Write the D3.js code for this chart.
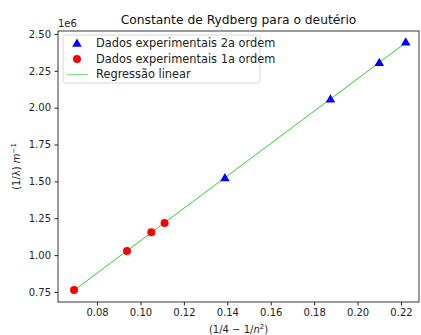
<!DOCTYPE html>
<html>
<head>
<meta charset="utf-8">
<script src="https://cdn.jsdelivr.net/npm/d3@7"></script>
<style>
  body { margin: 0; background: #fff; }
  svg { display: block; font-family: "DejaVu Sans", sans-serif; }
</style>
</head>
<body>
<div id="chart"></div>
<script>
// dados
const x2aOrdem = [0.1389, 0.1875, 0.2100, 0.2222];
const y2aOrdem = [1.523e6, 2.057e6, 2.305e6, 2.444e6];
const x1aOrdem = [0.0694, 0.0938, 0.1050, 0.1111];
const y1aOrdem = [0.764e6, 1.028e6, 1.155e6, 1.218e6];
const xTicks = [0.08, 0.10, 0.12, 0.14, 0.16, 0.18, 0.20, 0.22];
const yTicks = [0.75e6, 1.0e6, 1.25e6, 1.5e6, 1.75e6, 2.0e6, 2.25e6, 2.5e6];

const width = 421, height = 335;
const m = { left: 58, right: 2, top: 31, bottom: 33 };
const fs = 10;

const svg = d3.select("#chart").append("svg")
  .attr("width", width).attr("height", height);

const x = d3.scaleLinear().domain([0.0620, 0.2283]).range([m.left, width - m.right]);
const y = d3.scaleLinear().domain([0.682e6, 2.520e6]).range([height - m.bottom, m.top]);

// regressão linear (mínimos quadrados) sobre todos os pontos
const xs = x1aOrdem.concat(x2aOrdem), ys = y1aOrdem.concat(y2aOrdem);
const mx = d3.mean(xs), my = d3.mean(ys);
const slope = d3.sum(xs, (v, i) => (v - mx) * (ys[i] - my)) / d3.sum(xs, v => (v - mx) ** 2);
const icpt = my - slope * mx;
const xr = d3.extent(xs);

svg.append("line")
  .attr("x1", x(xr[0])).attr("y1", y(icpt + slope * xr[0]))
  .attr("x2", x(xr[1])).attr("y2", y(icpt + slope * xr[1]))
  .attr("stroke", "#32cd32").attr("stroke-width", 1);

svg.append("g").selectAll("circle")
  .data(x1aOrdem)
  .join("circle")
  .attr("cx", d => x(d))
  .attr("cy", (d, i) => y(y1aOrdem[i]))
  .attr("r", 4)
  .attr("fill", "red");

const tri = d3.symbol().type(d3.symbolTriangle).size(40);
svg.append("g").selectAll("path")
  .data(x2aOrdem)
  .join("path")
  .attr("d", tri)
  .attr("transform", (d, i) => `translate(${x(d)},${y(y2aOrdem[i]) + 0.5})`)
  .attr("fill", "blue");

// eixos
const xAxis = svg.append("g")
  .attr("transform", `translate(0,${height - m.bottom})`)
  .call(d3.axisBottom(x).tickValues(xTicks).tickFormat(d3.format(".2f")).tickSizeOuter(0).tickSize(3.5).tickPadding(3.5));
const yAxis = svg.append("g")
  .attr("transform", `translate(${m.left},0)`)
  .call(d3.axisLeft(y).tickValues(yTicks).tickFormat(d => d3.format(".2f")(d / 1e6)).tickSizeOuter(0).tickSize(3.5).tickPadding(3.5));
[xAxis, yAxis].forEach(a => {
  a.selectAll("text").attr("font-size", fs).attr("fill", "#222").attr("font-family", "DejaVu Sans");
  a.selectAll("line").attr("stroke", "#222");
  a.select(".domain").remove();
});

svg.append("rect")
  .attr("x", m.left).attr("y", m.top)
  .attr("width", width - m.left - m.right).attr("height", height - m.top - m.bottom)
  .attr("fill", "none").attr("stroke", "#222").attr("stroke-width", 0.9);

svg.append("text").attr("x", m.left).attr("y", 27)
  .attr("font-size", fs).attr("fill", "#222").text("1e6");

svg.append("text")
  .attr("x", (m.left + width - m.right) / 2).attr("y", 24)
  .attr("text-anchor", "middle").attr("font-size", 12.3).attr("fill", "#111")
  .text("Constante de Rydberg para o deutério");

const xl = svg.append("text")
  .attr("x", (m.left + width - m.right) / 2).attr("y", 333)
  .attr("text-anchor", "middle").attr("font-size", fs).attr("fill", "#222");
xl.append("tspan").text("(1/4 − 1/");
xl.append("tspan").attr("font-style", "italic").text("n");
xl.append("tspan").attr("font-size", 7).attr("dy", -4).text("2");
xl.append("tspan").attr("dy", 4).text(")");

const yl = svg.append("text")
  .attr("transform", `translate(20,${(m.top + height - m.bottom) / 2}) rotate(-90)`)
  .attr("text-anchor", "middle").attr("font-size", fs).attr("fill", "#222");
yl.append("tspan").text("(1/λ) ");
yl.append("tspan").attr("font-style", "italic").text("m");
yl.append("tspan").attr("font-size", 7).attr("dy", -4).text("−1");

// legenda
const lg = svg.append("g").attr("transform", "translate(63,35)");
lg.append("rect").attr("width", 197).attr("height", 48).attr("rx", 2)
  .attr("fill", "white").attr("fill-opacity", 0.8).attr("stroke", "#ccc").attr("stroke-width", 0.8);
const items = [
  { label: "Dados experimentais 2a ordem", kind: "tri" },
  { label: "Dados experimentais 1a ordem", kind: "circ" },
  { label: "Regressão linear", kind: "line" }
];
items.forEach((it, i) => {
  const cy = 8.5 + i * 15.5;
  if (it.kind === "tri") lg.append("path").attr("d", tri).attr("transform", `translate(14,${cy + 0.5})`).attr("fill", "blue");
  if (it.kind === "circ") lg.append("circle").attr("cx", 14).attr("cy", cy).attr("r", 4).attr("fill", "red");
  if (it.kind === "line") lg.append("line").attr("x1", 4).attr("x2", 25).attr("y1", cy).attr("y2", cy)
    .attr("stroke", "#7fe07f").attr("stroke-width", 1.2);
  lg.append("text").attr("x", 33).attr("y", cy + 3.8).attr("font-size", 11.4).attr("fill", "#222").text(it.label);
});
</script>
</body>
</html>
